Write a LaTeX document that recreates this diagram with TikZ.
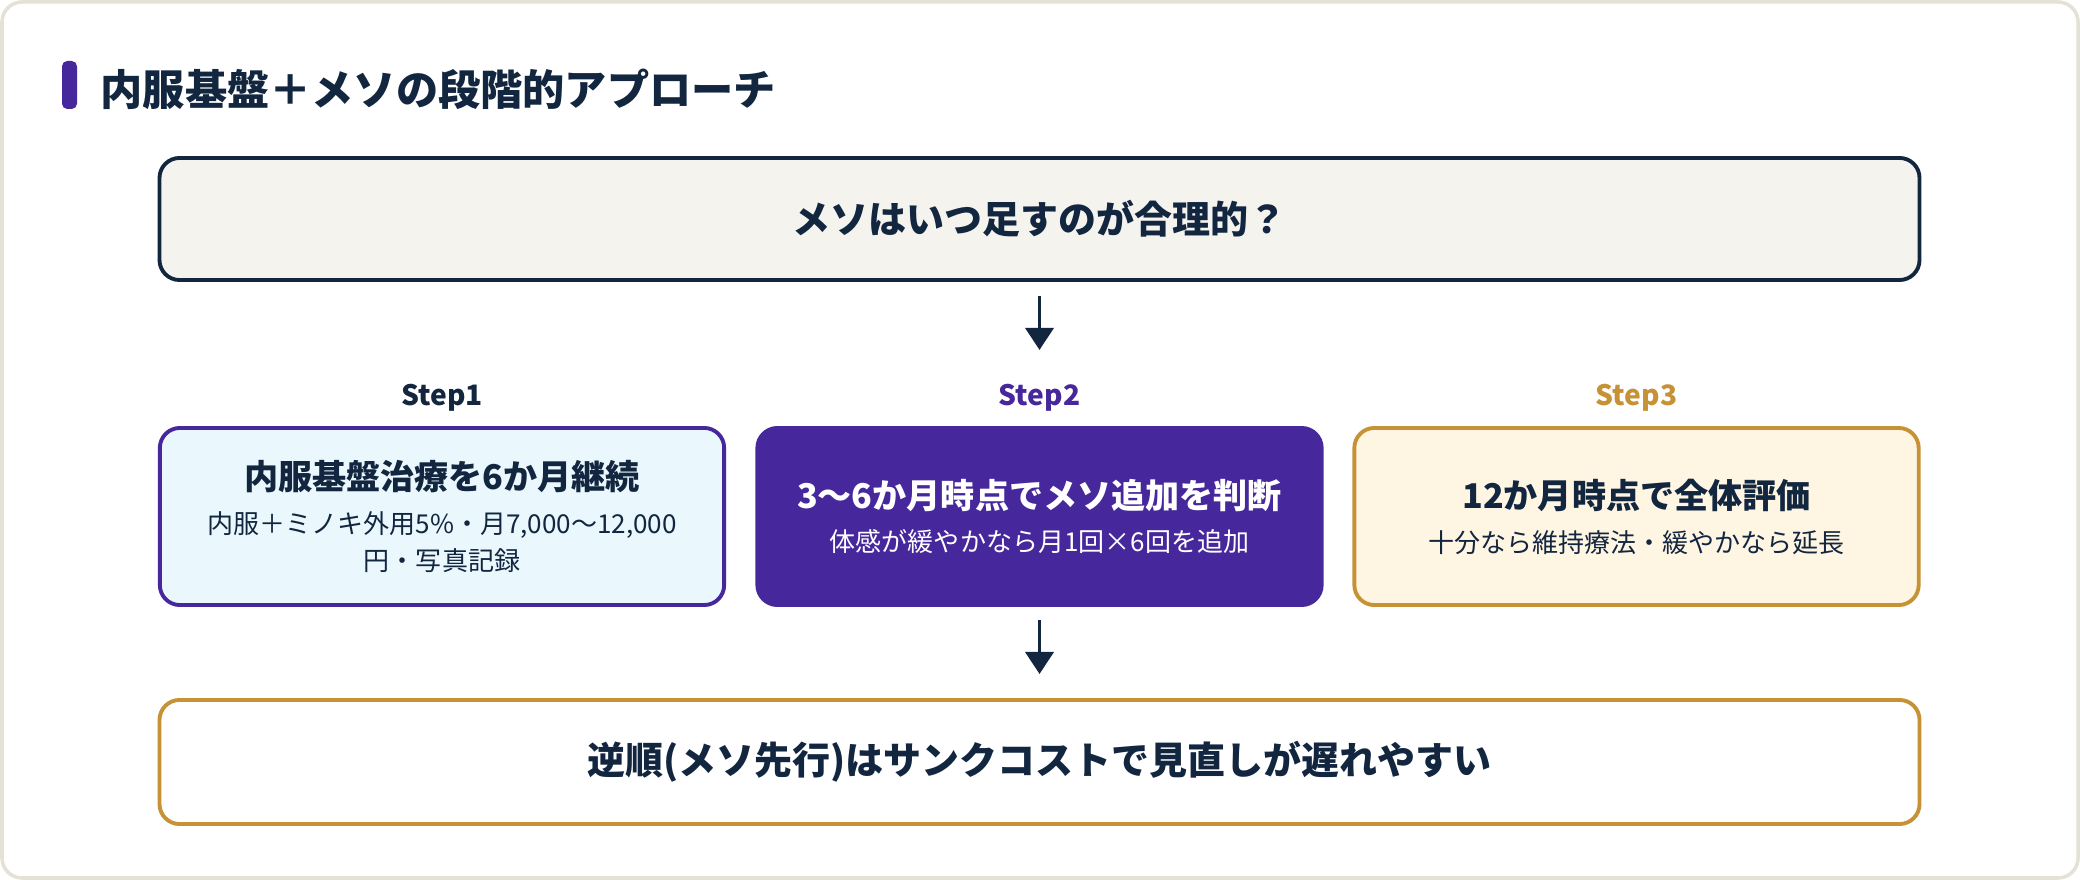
\documentclass[tikz,border=0pt]{standalone}
\usepackage{fontspec}
\setmainfont{Noto Sans CJK JP}
\usetikzlibrary{arrows.meta}
\definecolor{ink}{HTML}{12263F}
\definecolor{violet}{HTML}{47289C}
\definecolor{gold}{HTML}{C79235}
\definecolor{paleblue}{HTML}{EAF7FD}
\definecolor{cream}{HTML}{FFF5E3}
\definecolor{stone}{HTML}{F5F3EE}
\definecolor{frame}{HTML}{E4E2D6}
\begin{document}
\begin{tikzpicture}[x=.01cm, y=-.01cm,
	wide/.style={line width=1.1pt, rounded corners=.2cm, minimum width=17.59cm, inner sep=0pt, text=ink, font=\bfseries\fontsize{10.8}{13}\selectfont},
	stepbox/.style={line width=1.1pt, rounded corners=.2cm, minimum width=5.64cm, minimum height=1.77cm, inner sep=0pt, align=center, text=ink, font=\fontsize{7.4}{10.5}\selectfont},
	steplabel/.style={inner sep=0pt, font=\bfseries\fontsize{8}{10}\selectfont},
	flow/.style={draw=ink, line width=1.1pt, -{Triangle[length=6.3pt,width=8pt]}}]
	\useasboundingbox (0,0) rectangle (2080,880);
	\draw[frame, fill=white, line width=1pt, rounded corners=.2cm] (2,2) rectangle (2078,878);
	\fill[violet, rounded corners=1.5pt] (62,61) rectangle (77,109);
	\node[anchor=west, inner sep=0pt, text=ink, font=\bfseries\fontsize{12}{14}\selectfont] (ttl) at (100,89) {内服基盤＋メソの段階的アプローチ};
	\node[wide, draw=ink, fill=stone, minimum height=1.22cm] (q) at (1039.5,219) {メソはいつ足すのが合理的？};
	\node[steplabel, text=ink] (l1) at (442,398) {Step1};
	\node[steplabel, text=violet] (l2) at (1039.5,398) {Step2};
	\node[steplabel, text=gold] (l3) at (1636.5,398) {Step3};
	\node[stepbox, draw=violet, fill=paleblue] (s1) at (442,516.5) {{\bfseries\fontsize{9.7}{12}\selectfont 内服基盤治療を6か月継続}\\[2pt]内服＋ミノキ外用5\%・月7,000〜12,000\\円・写真記録};
	\node[stepbox, draw=violet, fill=violet, text=white] (s2) at (1039.5,516.5) {{\bfseries\fontsize{9.7}{12}\selectfont 3〜6か月時点でメソ追加を判断}\\[2pt]体感が緩やかなら月1回×6回を追加};
	\node[stepbox, draw=gold, fill=cream] (s3) at (1636.5,516.5) {{\bfseries\fontsize{9.7}{12}\selectfont 12か月時点で全体評価}\\[2pt]十分なら維持療法・緩やかなら延長};
	\node[wide, draw=gold, fill=white, minimum height=1.24cm] (r) at (1039.5,762) {逆順(メソ先行)はサンクコストで見直しが遅れやすい};
	\draw[flow, shorten <=.14cm, shorten >=.76cm] (q.south) -- (s2.north);
	\draw[flow, shorten <=.13cm, shorten >=.24cm] (s2.south) -- (r.north);
\end{tikzpicture}
\end{document}
